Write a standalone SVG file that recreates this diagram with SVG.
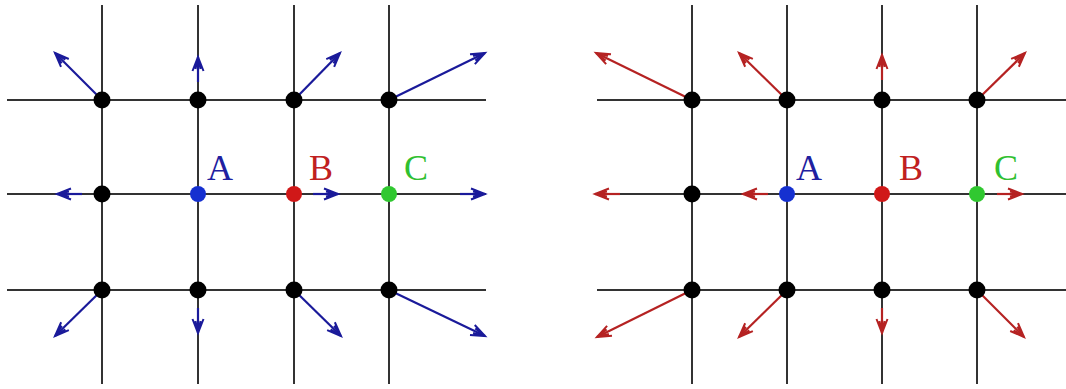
<svg xmlns="http://www.w3.org/2000/svg" width="1066" height="389" viewBox="0 0 1066 389">
<style>
.grid{stroke:#333;stroke-width:2;fill:none}
.ab{stroke:#1a1a9a;stroke-width:2.2;fill:none;marker-end:url(#hb)}
.ar{stroke:#b52222;stroke-width:2.2;fill:none;marker-end:url(#hr)}
.dot{fill:#000}
.lbl{font-family:"Liberation Serif",serif;font-size:36px}
</style>
<defs>
<marker id="hb" markerUnits="userSpaceOnUse" markerWidth="20" markerHeight="16" viewBox="-16 -8 20 16" refX="0" refY="0" orient="auto">
<path d="M-14,-5.5 L0,0 L-14,5.5 M-12,-2.5 L0,0 L-12,2.5" stroke="#1a1a9a" stroke-width="2" fill="none"/>
</marker>
<marker id="hr" markerUnits="userSpaceOnUse" markerWidth="20" markerHeight="16" viewBox="-16 -8 20 16" refX="0" refY="0" orient="auto">
<path d="M-14,-5.5 L0,0 L-14,5.5 M-12,-2.5 L0,0 L-12,2.5" stroke="#b52222" stroke-width="2" fill="none"/>
</marker>
</defs>
<rect width="1066" height="389" fill="#fff"/>
<g id="grid-left" class="grid">
<line x1="102" y1="5" x2="102" y2="384"/>
<line x1="198" y1="5" x2="198" y2="384"/>
<line x1="294" y1="5" x2="294" y2="384"/>
<line x1="389" y1="5" x2="389" y2="384"/>
<line x1="7" y1="100" x2="486" y2="100"/>
<line x1="7" y1="194" x2="486" y2="194"/>
<line x1="7" y1="290" x2="486" y2="290"/>
</g>
<g id="grid-right" class="grid">
<line x1="692" y1="5" x2="692" y2="384"/>
<line x1="787" y1="5" x2="787" y2="384"/>
<line x1="882" y1="5" x2="882" y2="384"/>
<line x1="977" y1="5" x2="977" y2="384"/>
<line x1="597" y1="100" x2="1066" y2="100"/>
<line x1="597" y1="194" x2="1066" y2="194"/>
<line x1="597" y1="290" x2="1066" y2="290"/>
</g>
<g id="connectors">
<line class="ab" x1="102" y1="100" x2="55" y2="53"/>
<line class="ab" x1="198" y1="82" x2="198" y2="57"/>
<line class="ab" x1="294" y1="100" x2="340" y2="53"/>
<line class="ab" x1="389" y1="100" x2="485" y2="53"/>
<line class="ab" x1="82" y1="194" x2="57" y2="194"/>
<line class="ab" x1="313" y1="194" x2="338" y2="194"/>
<line class="ab" x1="460" y1="194" x2="485" y2="194"/>
<line class="ab" x1="102" y1="290" x2="55" y2="336"/>
<line class="ab" x1="198" y1="308" x2="198" y2="333"/>
<line class="ab" x1="294" y1="290" x2="341" y2="336"/>
<line class="ab" x1="389" y1="290" x2="485" y2="336"/>
<line class="ar" x1="692" y1="100" x2="596" y2="53"/>
<line class="ar" x1="787" y1="100" x2="739" y2="53"/>
<line class="ar" x1="882" y1="80" x2="882" y2="55"/>
<line class="ar" x1="977" y1="100" x2="1025" y2="53"/>
<line class="ar" x1="620" y1="194" x2="595" y2="194"/>
<line class="ar" x1="768" y1="194" x2="743" y2="194"/>
<line class="ar" x1="997" y1="194" x2="1022" y2="194"/>
<line class="ar" x1="692" y1="290" x2="597" y2="337"/>
<line class="ar" x1="787" y1="290" x2="739" y2="337"/>
<line class="ar" x1="882" y1="308" x2="882" y2="333"/>
<line class="ar" x1="977" y1="290" x2="1024" y2="337"/>
</g>
<g id="nodes-left">
<circle id="l-n11" class="dot" cx="102" cy="100" r="8.5"/>
<circle id="l-n12" class="dot" cx="198" cy="100" r="8.5"/>
<circle id="l-n13" class="dot" cx="294" cy="100" r="8.5"/>
<circle id="l-n14" class="dot" cx="389" cy="100" r="8.5"/>
<circle id="l-n21" class="dot" cx="102" cy="194" r="8.5"/>
<g id="l-A"><circle cx="198" cy="194" r="8" fill="#1530d0"/><text class="lbl" x="207" y="180" fill="#2020a0">A</text></g>
<g id="l-B"><circle cx="294" cy="194" r="8" fill="#d01818"/><text class="lbl" x="309" y="180" fill="#c02020">B</text></g>
<g id="l-C"><circle cx="389" cy="194" r="8" fill="#30c830"/><text class="lbl" x="404" y="180" fill="#30c030">C</text></g>
<circle id="l-n31" class="dot" cx="102" cy="290" r="8.5"/>
<circle id="l-n32" class="dot" cx="198" cy="290" r="8.5"/>
<circle id="l-n33" class="dot" cx="294" cy="290" r="8.5"/>
<circle id="l-n34" class="dot" cx="389" cy="290" r="8.5"/>
</g>
<g id="nodes-right">
<circle id="r-n11" class="dot" cx="692" cy="100" r="8.5"/>
<circle id="r-n12" class="dot" cx="787" cy="100" r="8.5"/>
<circle id="r-n13" class="dot" cx="882" cy="100" r="8.5"/>
<circle id="r-n14" class="dot" cx="977" cy="100" r="8.5"/>
<circle id="r-n21" class="dot" cx="692" cy="194" r="8.5"/>
<g id="r-A"><circle cx="787" cy="194" r="8" fill="#1530d0"/><text class="lbl" x="796" y="180" fill="#2020a0">A</text></g>
<g id="r-B"><circle cx="882" cy="194" r="8" fill="#d01818"/><text class="lbl" x="899" y="180" fill="#c02020">B</text></g>
<g id="r-C"><circle cx="977" cy="194" r="8" fill="#30c830"/><text class="lbl" x="994" y="180" fill="#30c030">C</text></g>
<circle id="r-n31" class="dot" cx="692" cy="290" r="8.5"/>
<circle id="r-n32" class="dot" cx="787" cy="290" r="8.5"/>
<circle id="r-n33" class="dot" cx="882" cy="290" r="8.5"/>
<circle id="r-n34" class="dot" cx="977" cy="290" r="8.5"/>
</g>
</svg>
